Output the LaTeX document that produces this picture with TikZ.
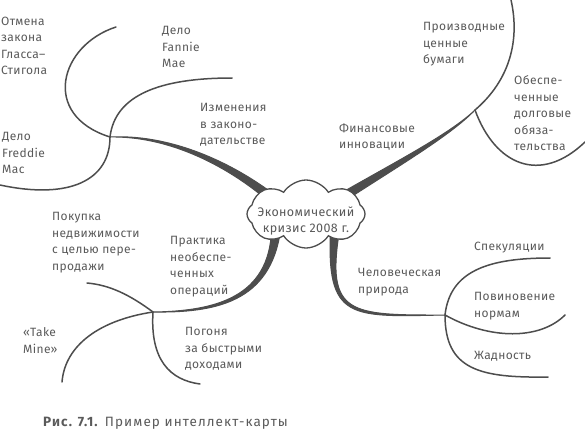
\documentclass[tikz,border=0pt]{standalone}
\usepackage{fontspec}
\setmainfont{Fira Sans}
\usetikzlibrary{calc,shapes.symbols}
\definecolor{ink}{HTML}{4D4D4D}
\definecolor{txt}{HTML}{5A5A5A}
\newcommand{\taperbranch}[4]{%
  \filldraw[trunk] ($(#1)!4.5pt!90:(#2)$) .. controls ($(#2)!2.6pt!90:(#3)$) and ($(#3)!0.9pt!90:(#4)$) .. (#4)
   .. controls ($(#3)!0.9pt!-90:(#4)$) and ($(#2)!2.6pt!-90:(#3)$) .. ($(#1)!4.5pt!-90:(#2)$) -- cycle;}
\begin{document}
\begin{tikzpicture}[x=1pt,y=-1pt,
  lbl/.style={anchor=north west, inner sep=0pt, align=left, text=txt, font=\fontsize{12}{16.5}\selectfont\addfontfeatures{LetterSpace=3}},
  twig/.style={draw=ink, line width=1.5pt, line cap=round},
  trunk/.style={fill=ink, draw=ink, line width=1pt, line join=round}]
\useasboundingbox (0,0) rectangle (585,434);
\fill[white] (0,0) rectangle (585,434);

% junctions
\coordinate (j1) at (110,137);
\coordinate (j2) at (475,110);
\coordinate (j3) at (153,312);
\coordinate (j4) at (445,315);

% trunk starts (under the cloud) and controls
\coordinate (a1) at (274,200); \coordinate (p1) at (225,160); \coordinate (q1) at (165,135);
\coordinate (a2) at (338,200); \coordinate (p2) at (395,165); \coordinate (q2) at (450,135);
\coordinate (a3) at (276,230); \coordinate (p3) at (270,300); \coordinate (q3) at (215,312);
\coordinate (a4) at (335,230); \coordinate (p4) at (326,318); \coordinate (q4) at (350,316);

\taperbranch{a1}{p1}{q1}{j1}
\taperbranch{a2}{p2}{q2}{j2}
\taperbranch{a3}{p3}{q3}{j3}
\taperbranch{a4}{p4}{q4}{j4}

% twig ends
\coordinate (e11) at (116,27);
\coordinate (e12) at (232,78);
\coordinate (e13) at (0,185);
\coordinate (e21) at (511,0);
\coordinate (e22) at (585,142);
\coordinate (e31) at (87,283);
\coordinate (e32) at (62,382);
\coordinate (e33) at (200,384);
\coordinate (e41) at (550,258);
\coordinate (e42) at (565,315);
\coordinate (e43) at (548,377);

\draw[twig] (j1) .. controls (40,115) and (60,45) .. (e11);
\draw[twig] (j1) .. controls (115,95) and (160,78) .. (e12);
\draw[twig] (j1) .. controls (110,180) and (70,200) .. (e13);
\draw[twig] (j2) .. controls (510,80) and (520,40) .. (e21);
\draw[twig] (j2) .. controls (495,165) and (540,185) .. (e22);
\draw[twig] (j3) .. controls (130,295) and (110,285) .. (e31);
\draw[twig] (j3) .. controls (100,320) and (65,345) .. (e32);
\draw[twig] (j3) .. controls (150,360) and (170,380) .. (e33);
\draw[twig] (j4) .. controls (450,270) and (490,258) .. (e41);
\draw[twig] (j4) .. controls (490,340) and (540,340) .. (e42);
\draw[twig] (j4) .. controls (445,370) and (480,378) .. (e43);

% central cloud
\node[cloud, draw=ink, fill=white, line width=1.3pt, cloud puffs=8, cloud puff arc=115,
      aspect=1.75, minimum width=118pt, minimum height=68pt, inner sep=0pt] (core) at (306,214) {};
\node[inner sep=0pt, align=center, text=txt, font=\fontsize{12.5}{16}\selectfont\addfontfeatures{LetterSpace=3}] (coretext) at (306,221) {Экономический\\кризис 2008 г.};

% labels
\node[lbl] (glass) at (1,16.5) {Отмена\\закона\\Гласса–\\Стигола};
\node[lbl] (fannie) at (162,26.5) {Дело\\Fannie\\Mae};
\node[lbl] (izm) at (200,103.5) {Изменения\\в законо-\\дательстве};
\node[lbl] (freddie) at (2,132.5) {Дело\\Freddie\\Mac};
\node[lbl] (proizv) at (423,22.5) {Производные\\ценные\\бумаги};
\node[lbl] (obesp) at (514,75.5) {Обеспе-\\ченные\\долговые\\обяза-\\тельства};
\node[lbl] (fin) at (339,123.5) {Финансовые\\инновации};
\node[lbl] (pokupka) at (52,212.5) {Покупка\\недвижимости\\с целью пере-\\продажи};
\node[lbl] (praktika) at (170,236.5) {Практика\\необеспе-\\ченных\\операций};
\node[lbl] (take) at (23,327.5) {«Take\\Mine»};
\node[lbl] (pogonya) at (185,327.5) {Погоня\\за быстрыми\\доходами};
\node[lbl] (chel) at (358,268.5) {Человеческая\\природа};
\node[lbl] (spek) at (474,241.5) {Спекуляции};
\node[lbl] (povin) at (474,292.5) {Повиновение\\нормам};
\node[lbl] (zhad) at (474,351.5) {Жадность};

% caption
\node[anchor=north west, inner sep=0pt, text=txt, font=\fontsize{13.5}{16}\selectfont\addfontfeatures{LetterSpace=8}] (caption) at (43,417) {\textbf{Рис. 7.1.} Пример интеллект-карты};
\end{tikzpicture}
\end{document}
